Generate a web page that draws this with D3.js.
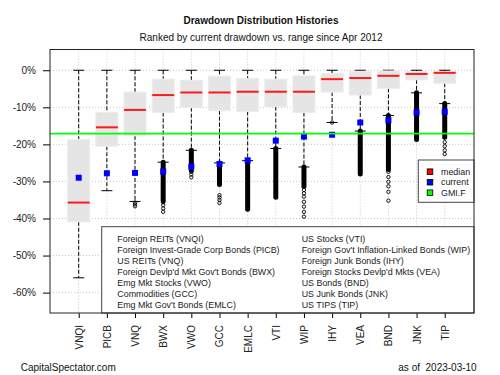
<!DOCTYPE html>
<html>
<head>
<meta charset="utf-8">
<script src="https://cdn.jsdelivr.net/npm/d3@7/dist/d3.min.js"></script>
<style>
  body { margin: 0; background: #fff; }
  svg { font-family: "Liberation Sans", Arial, sans-serif; }
</style>
</head>
<body>
<div id="chart"></div>
<script>
// drawdown data, values in %
const tickers = ['VNQI', 'PICB', 'VNQ', 'BWX', 'VWO', 'GCC', 'EMLC', 'VTI', 'WIP', 'IHY', 'VEA', 'BND', 'JNK', 'TIP'];
const whiskerHigh = [0, 0, 0, 0, 0, 0, 0, 0, 0, 0, 0, 0, 0, 0];
const boxTop = [-18.7, -11.35, -5.9, -2.4, -2.7, -1.6, -2.25, -2.4, -1.5, -0.9, -0.3, -0.2, -0.4, -0.4];
const medians = [-35.7, -15.4, -10.7, -6.7, -6.0, -6.0, -5.8, -5.8, -5.8, -2.4, -2.1, -1.5, -1.0, -0.7];
const boxBottom = [-40.9, -20.5, -17.7, -11.4, -10.1, -10.9, -11.1, -9.8, -11.4, -5.9, -6.7, -4.9, -2.6, -3.5];
const whiskerLow = [-56.0, -32.5, -35.4, -24.8, -21.6, -25.0, -24.4, -21.1, -26.1, -14.1, -16.4, -12.2, -6.1, -9.0];
const current = [-29.0, -27.8, -27.7, -27.3, -26.0, -25.3, -24.3, -19.0, -17.9, -17.4, -14.1, -13.5, -11.4, -11.2];
// runs of outliers so dense they print as a solid bar
const outlierRuns = [null, null, null, [-24.8, -35.3], [-21.6, -27.0], [-25.0, -30.8], [-24.4, -37.5],
    [-21.1, -34.3], [-26.1, -31.4], null, [-16.4, -28.0], [-12.2, -26.8], [-6.1, -18.7], [-9.0, -18.1]];
const outlierPoints = [[], [], [-35.7, -36.2, -36.7], [-35.6, -36.4, -37.3, -38.2], [-27.4, -28.1, -28.9],
    [-33.7, -34.3, -35.0, -35.8], [], [], [-32.3, -33.2, -34.1, -35.5, -36.8, -38.2, -39.5], [-14.1],
    [], [-27.4, -28.8, -30.1, -31.3, -32.8, -35.2], [], [-19.4, -20.5, -21.6, -22.6]];
const gmif = -17.1;
const yTicks = [0, -10, -20, -30, -40, -50, -60];
const fundNames = ['Foreign REITs (VNQI)', 'Foreign Invest-Grade Corp Bonds (PICB)', 'US REITs (VNQ)',
    "Foreign Devlp'd Mkt Gov't Bonds (BWX)", 'Emg Mkt Stocks (VWO)', 'Commodities (GCC)',
    "Emg Mkt Gov't Bonds (EMLC)", 'US Stocks (VTI)', "Foreign Gov't Inflation-Linked Bonds (WIP)",
    'Foreign Junk Bonds (IHY)', "Foreign Stocks Devlp'd Mkts (VEA)", 'US Bonds (BND)',
    'US Junk Bonds (JNK)', 'US TIPS (TIP)'];
const legendItems = [{name: 'median', color: '#ff0000'}, {name: 'current', color: '#0000ff'}, {name: 'GMI.F', color: '#00ff00'}];

const width = 500, height = 375;
const margin = {left: 50, right: 26, top: 49.5, bottom: 62};
const plotW = width - margin.left - margin.right,
      plotH = height - margin.top - margin.bottom;

const svg = d3.select('#chart').append('svg').attr('width', width).attr('height', height);

const x = d3.scaleLinear().domain([-0.02, 15.04]).range([0, plotW]);
const y = d3.scaleLinear().domain([5.6, -65.5]).range([0, plotH]);
const idx = d3.range(1, tickers.length + 1);

svg.append('text').attr('x', 261).attr('y', 23.5).attr('text-anchor', 'middle')
    .attr('font-size', 10).attr('font-weight', 'bold').attr('fill', '#111')
    .text('Drawdown Distribution Histories');
svg.append('text').attr('x', 261).attr('y', 40.5).attr('text-anchor', 'middle')
    .attr('font-size', 10).attr('fill', '#111')
    .text('Ranked by current drawdown vs. range since Apr 2012');

const g = svg.append('g').attr('transform', 'translate(' + margin.left + ',' + margin.top + ')');

// grid
g.selectAll('line.vgrid').data(idx).enter().append('line')
    .attr('x1', d => x(d)).attr('x2', d => x(d)).attr('y1', 0).attr('y2', plotH)
    .attr('stroke', '#c8c8c8').attr('stroke-dasharray', '1,2');
g.selectAll('line.hgrid').data(yTicks).enter().append('line')
    .attr('x1', 0).attr('x2', plotW).attr('y1', d => y(d)).attr('y2', d => y(d))
    .attr('stroke', '#c8c8c8').attr('stroke-dasharray', '1,2');

const boxW = 22, capW = 11;
const boxes = g.selectAll('g.box').data(idx).enter().append('g').attr('class', 'box');

// whiskers
boxes.append('line').attr('x1', d => x(d)).attr('x2', d => x(d))
    .attr('y1', d => y(whiskerHigh[d - 1])).attr('y2', d => y(boxTop[d - 1]))
    .attr('stroke', '#000').attr('stroke-dasharray', '4,2');
boxes.append('line').attr('x1', d => x(d)).attr('x2', d => x(d))
    .attr('y1', d => y(boxBottom[d - 1])).attr('y2', d => y(whiskerLow[d - 1]))
    .attr('stroke', '#000').attr('stroke-dasharray', '4,2');
boxes.append('line').attr('x1', d => x(d) - capW / 2).attr('x2', d => x(d) + capW / 2)
    .attr('y1', d => y(whiskerHigh[d - 1])).attr('y2', d => y(whiskerHigh[d - 1])).attr('stroke', '#000');
boxes.append('line').attr('x1', d => x(d) - capW / 2).attr('x2', d => x(d) + capW / 2)
    .attr('y1', d => y(whiskerLow[d - 1])).attr('y2', d => y(whiskerLow[d - 1])).attr('stroke', '#000');

// box body
boxes.append('rect').attr('x', d => x(d) - boxW / 2).attr('width', boxW)
    .attr('y', d => y(boxTop[d - 1])).attr('height', d => y(boxBottom[d - 1]) - y(boxTop[d - 1]))
    .attr('fill', '#e5e5e5').attr('stroke', '#ececec');
boxes.append('line').attr('x1', d => x(d) - boxW / 2).attr('x2', d => x(d) + boxW / 2)
    .attr('y1', d => y(medians[d - 1])).attr('y2', d => y(medians[d - 1]))
    .attr('stroke', '#ff1a1a').attr('stroke-width', 2);

// outliers
boxes.filter(d => outlierRuns[d - 1]).append('line')
    .attr('x1', d => x(d)).attr('x2', d => x(d))
    .attr('y1', d => y(outlierRuns[d - 1][0])).attr('y2', d => y(outlierRuns[d - 1][1]))
    .attr('stroke', '#000').attr('stroke-width', 5).attr('stroke-linecap', 'round');
boxes.each(function(d) {
    d3.select(this).selectAll('circle').data(outlierPoints[d - 1]).enter().append('circle')
        .attr('cx', x(d)).attr('cy', v => y(v)).attr('r', 1.7)
        .attr('fill', 'none').attr('stroke', '#000').attr('stroke-width', 0.9);
});

// GMI.F line
g.append('line').attr('x1', 0).attr('x2', plotW).attr('y1', y(gmif)).attr('y2', y(gmif))
    .attr('stroke', '#00ff00').attr('stroke-width', 1.6);

// current
boxes.append('rect').attr('x', d => x(d) - 3).attr('y', d => y(current[d - 1]) - 3)
    .attr('width', 6).attr('height', 6).attr('fill', '#0000ff');

// axes
g.append('g').call(d3.axisLeft(y).tickValues(yTicks).tickFormat(d => d + '%').tickSize(7).tickPadding(7))
    .call(a => a.select('.domain').remove())
    .call(a => a.selectAll('text').attr('font-size', 10).attr('fill', '#222').attr('font-family', null));
const xAxis = g.append('g').attr('transform', 'translate(0,' + plotH + ')')
    .call(d3.axisBottom(x).tickValues(idx).tickFormat(d => tickers[d - 1]).tickSize(5))
    .call(a => a.select('.domain').remove());
xAxis.selectAll('text').attr('font-size', 10).attr('fill', '#222').attr('font-family', null)
    .attr('transform', 'rotate(-90)').attr('text-anchor', 'end')
    .attr('x', -12).attr('y', 0).attr('dy', '0.35em');

// fund legend
const legG = g.append('g');
legG.append('rect').attr('x', 101.7 - margin.left).attr('y', 226.7 - margin.top)
    .attr('width', plotW - (101.7 - margin.left)).attr('height', plotH - (226.7 - margin.top))
    .attr('fill', '#fff').attr('stroke', '#444');
legG.selectAll('text').data(fundNames).enter().append('text')
    .attr('x', (d, i) => (i < 7 ? 117.3 : 301.7) - margin.left)
    .attr('y', (d, i) => 239.3 + (i % 7) * 10.85 - margin.top)
    .attr('dy', '0.35em').attr('font-size', 8.9).attr('fill', '#222').text(d => d);

// marker legend
const mk = g.append('g');
mk.append('rect').attr('x', 418.3 - margin.left).attr('y', 160 - margin.top)
    .attr('width', plotW - (418.3 - margin.left)).attr('height', 42.3)
    .attr('fill', '#fff').attr('stroke', '#444');
const mkRows = mk.selectAll('g').data(legendItems).enter().append('g')
    .attr('transform', (d, i) => 'translate(' + (430 - margin.left) + ',' + (171.7 + i * 10.5 - margin.top) + ')');
mkRows.append('rect').attr('x', -2.8).attr('y', -2.8).attr('width', 5.6).attr('height', 5.6)
    .attr('fill', d => d.color).attr('stroke', '#000').attr('stroke-width', 0.8);
mkRows.append('text').attr('x', 11).attr('dy', '0.35em').attr('font-size', 8.9).attr('fill', '#222').text(d => d.name);

// plot frame
g.append('rect').attr('width', plotW).attr('height', plotH).attr('fill', 'none').attr('stroke', '#222');

svg.append('text').attr('x', 20.7).attr('y', 370.5).attr('font-size', 10).attr('fill', '#111')
    .text('CapitalSpectator.com');
svg.append('text').attr('x', 476.7).attr('y', 370.5).attr('text-anchor', 'end')
    .attr('font-size', 10).attr('fill', '#111').attr('xml:space', 'preserve')
    .text('as of  2023-03-10');
</script>
</body>
</html>
